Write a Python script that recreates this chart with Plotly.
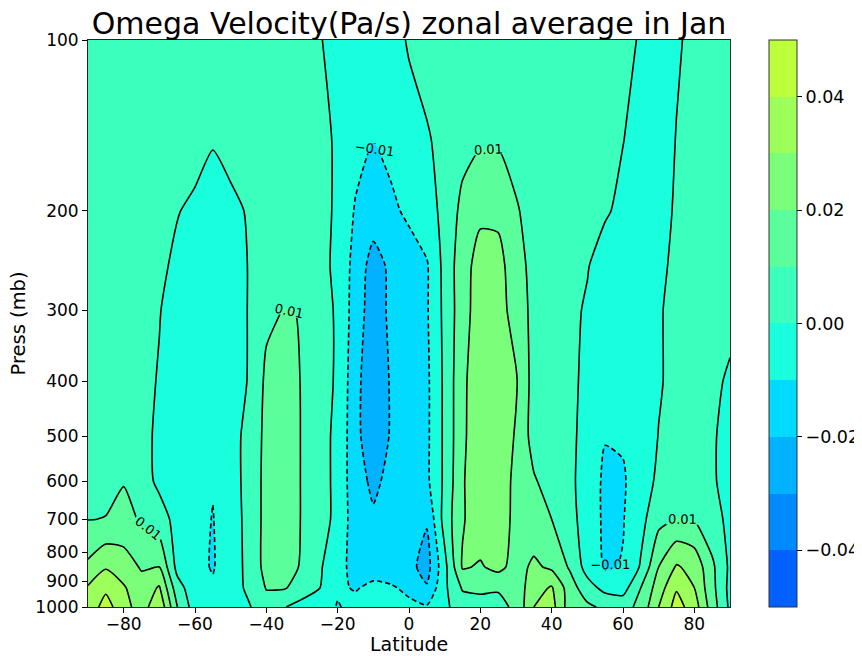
import plotly.graph_objects as go

# ---------------- data ----------------
lat = list(range(-90, 91, 5))
pressure = [1000, 925, 850, 700, 600, 500, 400, 300, 250, 200, 150, 100]

#            -90     -85     -80     -75     -70     -65     -60     -55     -50     -45     -40     -35     -30     -25     -20     -15     -10     -5      0       5       10      15      20      25      30      35      40      45      50      55      60      65      70      75      80      85      90
omega_1000 = [0.034, 0.044, 0.034, 0.025, 0.038, 0.0102, -0.005, -0.006, -0.004, -0.001, 0.006, 0.0005, -0.004, -0.006, -0.0105, -0.008, -0.006, -0.007, -0.008, -0.009, -0.002, 0.005, 0.006, 0.007, 0.012, 0.030, 0.034, 0.015, 0.012, 0.008, 0.006, 0.013, 0.030, 0.044, 0.035, 0.015, -0.002]
omega_925 = [0.031, 0.038, 0.031, 0.024, 0.031, 0.004, -0.006, -0.009, -0.005, 0.002, 0.0105, 0.0108, 0.006, 0.0001, -0.009, -0.0105, -0.0085, -0.009, -0.012, -0.019, -0.002, 0.011, 0.012, 0.011, 0.014, 0.026, 0.031, 0.015, 0.004, -0.003, -0.004, 0.010, 0.025, 0.039, 0.030, 0.013, -0.003]
omega_850 = [0.022, 0.029, 0.025, 0.019, 0.020, -0.003, -0.008, -0.0105, -0.006, 0.003, 0.013, 0.014, 0.009, 0.001, -0.006, -0.014, -0.013, -0.015, -0.017, -0.024, -0.003, 0.021, 0.019, 0.023, 0.016, 0.022, 0.018, 0.009, -0.004, -0.011, -0.0095, 0.001, 0.020, 0.031, 0.027, 0.012, -0.002]
omega_700 = [0.0098, 0.0102, 0.013, 0.009, 0.004, -0.003, -0.007, -0.0103, -0.005, 0.003, 0.013, 0.015, 0.0095, 0.003, -0.002, -0.016, -0.019, -0.017, -0.017, -0.019, 0.004, 0.019, 0.026, 0.026, 0.017, 0.013, 0.010, 0.003, -0.004, -0.012, -0.0105, -0.003, 0.007, 0.0105, 0.0095, 0.003, -0.002]
omega_600 = [0.006, 0.008, 0.0095, 0.004, -0.002, -0.006, -0.007, -0.0095, -0.004, 0.003, 0.013, 0.015, 0.0095, 0.003, -0.002, -0.017, -0.0215, -0.018, -0.015, -0.012, 0.002, 0.019, 0.027, 0.027, 0.017, 0.011, 0.006, 0.002, -0.004, -0.012, -0.011, -0.005, 0.002, 0.004, 0.004, 0.001, -0.003]
omega_500 = [0.004, 0.005, 0.007, 0.003, -0.002, -0.005, -0.007, -0.008, -0.004, 0.003, 0.0125, 0.015, 0.0095, 0.003, -0.002, -0.017, -0.027, -0.019, -0.016, -0.012, 0.002, 0.018, 0.027, 0.027, 0.019, 0.006, 0.005, 0.002, -0.003, -0.0095, -0.009, -0.006, 0.0003, 0.004, 0.004, 0.001, -0.003]
omega_400 = [0.004, 0.004, 0.004, 0.002, -0.0005, -0.004, -0.006, -0.007, -0.004, 0.0004, 0.012, 0.014, 0.0095, 0.003, -0.001, -0.017, -0.027, -0.019, -0.016, -0.012, 0.002, 0.018, 0.026, 0.026, 0.021, 0.006, 0.005, 0.002, -0.002, -0.007, -0.008, -0.006, -0.001, 0.003, 0.004, 0.003, -0.002]
omega_300 = [0.004, 0.004, 0.004, 0.003, 0.0003, -0.003, -0.005, -0.006, -0.004, 0.0003, 0.008, 0.0103, 0.0098, 0.003, -0.001, -0.015, -0.025, -0.018, -0.015, -0.011, 0.0025, 0.016, 0.025, 0.024, 0.016, 0.007, 0.005, 0.002, -0.001, -0.005, -0.007, -0.006, -0.001, 0.003, 0.004, 0.004, 0.004]
omega_250 = [0.004, 0.004, 0.004, 0.004, 0.002, -0.002, -0.004, -0.005, -0.003, 0.0002, 0.005, 0.006, 0.005, 0.002, -0.0015, -0.014, -0.024, -0.018, -0.015, -0.011, 0.003, 0.016, 0.024, 0.023, 0.015, 0.006, 0.005, 0.004, 0.0005, -0.004, -0.006, -0.005, -0.002, 0.002, 0.004, 0.004, 0.004]
omega_200 = [0.004, 0.004, 0.004, 0.004, 0.003, 0.0005, -0.002, -0.003, -0.002, 0.0007, 0.004, 0.004, 0.004, 0.002, -0.001, -0.011, -0.015, -0.012, -0.008, -0.003, 0.002, 0.013, 0.018, 0.018, 0.011, 0.006, 0.004, 0.004, 0.004, 0.001, -0.002, -0.004, -0.003, 0.001, 0.004, 0.004, 0.004]
omega_150 = [0.004, 0.004, 0.004, 0.004, 0.004, 0.004, 0.004, 0.0005, 0.003, 0.004, 0.004, 0.004, 0.004, 0.002, -0.001, -0.006, -0.0098, -0.007, -0.004, -0.001, 0.003, 0.006, 0.0088, 0.0088, 0.006, 0.004, 0.004, 0.004, 0.004, 0.004, 0.0002, -0.003, -0.004, 0.0003, 0.003, 0.004, 0.004]
omega_100 = [0.004, 0.004, 0.004, 0.004, 0.004, 0.004, 0.004, 0.004, 0.004, 0.004, 0.004, 0.004, 0.003, 0.0005, -0.003, -0.006, -0.007, -0.004, 0.001, 0.004, 0.004, 0.004, 0.004, 0.004, 0.004, 0.004, 0.004, 0.004, 0.004, 0.004, 0.003, -0.001, -0.003, -0.001, 0.002, 0.004, 0.004]

omega = [omega_1000, omega_925, omega_850, omega_700, omega_600, omega_500,
         omega_400, omega_300, omega_250, omega_200, omega_150, omega_100]

x_ticks = [-80, -60, -40, -20, 0, 20, 40, 60, 80]
y_ticks = [100, 200, 300, 400, 500, 600, 700, 800, 900, 1000]
cbar_ticks = [-0.04, -0.02, 0.0, 0.02, 0.04]
cbar_labels = ["\u22120.04", "\u22120.02", "0.00", "0.02", "0.04"]

# band colours from -0.05..-0.04 up to 0.04..0.05
band_colors = ["#0061FF", "#008AFF", "#00B2FF", "#00DBFF", "#19FFDE",
               "#3AFFBD", "#5AFF9C", "#7BFF7B", "#9CFF5A", "#BDFF3A"]

LV_START, LV_END, LV_STEP = -0.05, 0.05, 0.01

# contour fill: plotly samples band k at fraction (k+1)/(n+1)
nb = len(band_colors)
fill_scale = [[0.0, band_colors[0]]]
for k, c in enumerate(band_colors):
    fill_scale.append([(k + 1) / (nb + 1), c])
fill_scale.append([1.0, band_colors[-1]])

# stepped scale for the colour bar
bar_scale = []
for k, c in enumerate(band_colors):
    bar_scale.append([k / nb, c])
    bar_scale.append([(k + 1) / nb, c])

FONT = "DejaVu Sans"

# page body adds an 8px offset; figure is sized so the plot lands where the reference has it
W, H = 854, 648
ML, MR, MT, MB = 80, 132, 32, 49
PW = W - ML - MR
PH = H - MT - MB

fig = go.Figure()

fig.add_trace(go.Contour(
    x=lat, y=pressure, z=omega,
    autocontour=False,
    contours=dict(start=LV_START, end=LV_END, size=LV_STEP,
                  coloring="fill", showlines=False),
    colorscale=fill_scale,
    line=dict(width=0, smoothing=0.6),
    hoverinfo="skip",
    showscale=False,
))

def line_trace(start, end, dash, labels):
    return go.Contour(
        x=lat, y=pressure, z=omega,
        autocontour=False,
        contours=dict(start=start, end=end, size=0.02, coloring="none",
                      showlabels=labels,
                      labelfont=dict(family=FONT, size=13, color="black"),
                      labelformat=".2f"),
        line=dict(color="black", width=1.6, dash=dash, smoothing=0.6),
        showscale=False, hoverinfo="skip",
    )

fig.add_trace(line_trace(0.0, 0.04, "solid", False))
fig.add_trace(line_trace(0.01, 0.05, "solid", True))
fig.add_trace(line_trace(-0.04, -0.02, "5px,3px", False))
fig.add_trace(line_trace(-0.05, -0.01, "5px,3px", True))

# colour bar carrier (invisible marker)
fig.add_trace(go.Scatter(
    x=[0], y=[500], mode="markers", hoverinfo="skip",
    marker=dict(size=1, opacity=0, color=[0.0], cmin=LV_START, cmax=LV_END,
                colorscale=bar_scale, showscale=True,
                colorbar=dict(
                    x=(769 - 88) / PW, xanchor="left", xpad=0,
                    y=0.5, yanchor="middle", ypad=0,
                    len=1.0, lenmode="fraction",
                    thickness=28, thicknessmode="pixels",
                    outlinewidth=1, outlinecolor="#333333",
                    tickvals=cbar_ticks, ticktext=cbar_labels,
                    ticks="outside", ticklen=5, tickcolor="black",
                    tickfont=dict(family=FONT, size=17.5, color="black"),
                )),
))

fig.update_layout(
    width=W, height=H,
    margin=dict(l=ML, r=MR, t=MT, b=MB, autoexpand=False),
    paper_bgcolor="white", plot_bgcolor="white",
    font=dict(family=FONT, size=17, color="black"),
    showlegend=False,
    title=dict(text="Omega Velocity(Pa/s) zonal average in Jan",
               x=0.5, xref="paper", xanchor="center",
               y=1 - 15 / H, yref="container", yanchor="middle",
               font=dict(family=FONT, size=30, color="black")),
    xaxis=dict(range=[-90, 90], tickvals=x_ticks, ticks="outside", ticklen=5,
               tickcolor="black", showline=True, mirror=True, linecolor="#222222",
               linewidth=1, showgrid=False, zeroline=False,
               ticklabelstandoff=-3,
               tickfont=dict(size=17)),
    yaxis=dict(type="log", range=[3, 2], tickvals=y_ticks,
               ticktext=[str(v) for v in y_ticks],
               ticks="outside", ticklen=5, tickcolor="black",
               showline=True, mirror=True, linecolor="#222222", linewidth=1,
               showgrid=False, zeroline=False, tickfont=dict(size=17)),
    annotations=[
        dict(text="Latitude", xref="paper", yref="paper", x=0.5,
             y=-(636 - (MT + PH)) / PH, xanchor="center", yanchor="middle",
             showarrow=False, font=dict(family=FONT, size=19, color="black")),
        dict(text="Press (mb)", xref="paper", yref="paper",
             x=(10 - ML) / PW, y=0.5, xanchor="center", yanchor="middle",
             textangle=-90, showarrow=False,
             font=dict(family=FONT, size=19.5, color="black")),
    ],
)

fig.write_html("out.html")
